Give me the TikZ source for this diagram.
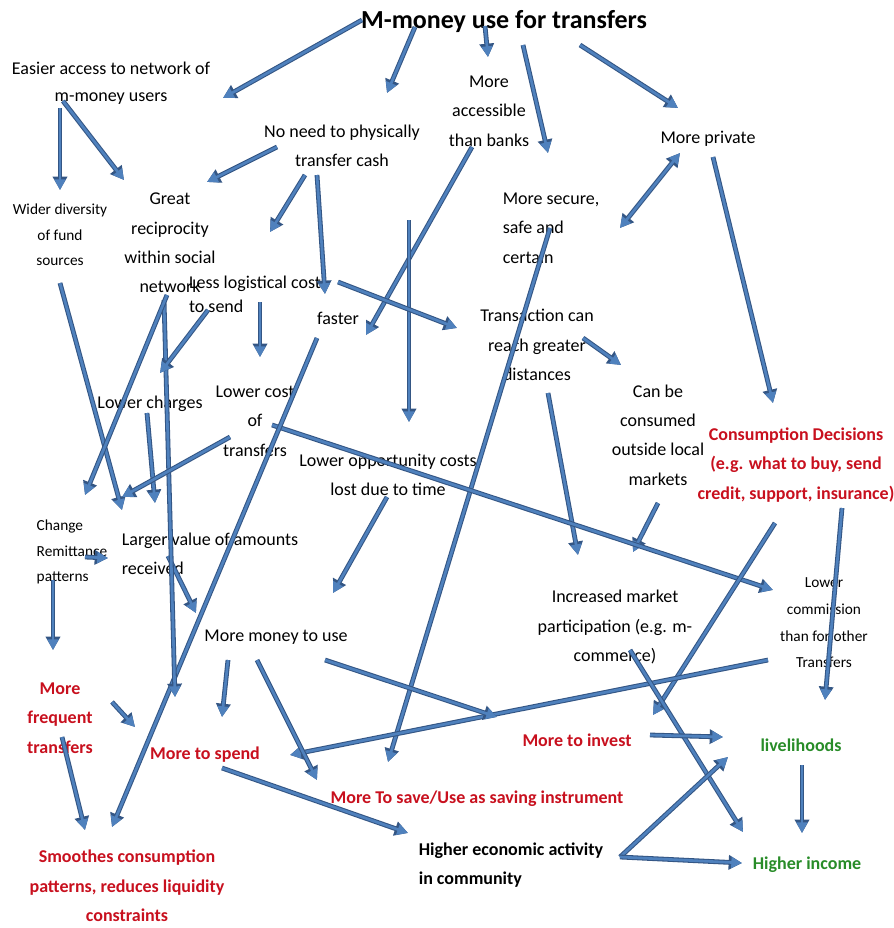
\documentclass[tikz,border=0pt]{standalone}
\usepackage{fontspec}
\setmainfont{Carlito}
\usetikzlibrary{arrows.meta,calc}
\definecolor{arrfill}{RGB}{79,129,189}
\definecolor{arredge}{RGB}{52,86,132}
\definecolor{txtred}{RGB}{200,16,30}
\definecolor{txtgreen}{RGB}{40,140,40}
\tikzset{
  arr/.style={line width=2pt, draw=arrfill, -{Triangle[length=8pt,width=8pt]},
    preaction={draw=arredge, line width=3.6pt, -{Triangle[length=10pt,width=10.5pt]}}},
  arrboth/.style={line width=2pt, draw=arrfill, {Triangle[length=8pt,width=8pt]}-{Triangle[length=8pt,width=8pt]},
    preaction={draw=arredge, line width=3.6pt, {Triangle[length=10pt,width=10.5pt]}-{Triangle[length=10pt,width=10.5pt]}}},
  txt/.style={inner sep=0pt, align=center, font=\fontsize{13.5}{22}\selectfont},
  smalltxt/.style={inner sep=0pt, align=center, font=\fontsize{11.5}{19}\selectfont},
  boldtxt/.style={inner sep=0pt, align=center, font=\fontsize{13.5}{22}\selectfont\bfseries},
  redtxt/.style={boldtxt, text=txtred},
  greentxt/.style={boldtxt, text=txtgreen},
  ttl/.style={inner sep=0pt, font=\fontsize{19.5}{23}\selectfont\bfseries}
}
\begin{document}
\begin{tikzpicture}[x=0.75pt,y=0.75pt,yscale=-1,xscale=1]
\useasboundingbox (0,0) rectangle (893,928);

% Text Node
\draw (504,22) node (title) [ttl] {M-money use for transfers};
% Text Node
\draw (111,83) node (easy) [txt, font=\fontsize{13.5}{20}\selectfont] {Easier access to network of\\m-money users};
% Text Node
\draw (342,146) node (noneed) [txt] {No need to physically\\transfer cash};
% Text Node
\draw (489,111) node (access) [txt] {More\\accessible\\than banks};
% Text Node
\draw (708,139) node (private) [txt] {More private};
% Text Node
\draw (551,228) node (secure) [txt, align=left] {More secure,\\safe and\\certain};
% Text Node
\draw (60,235) node (wider) [smalltxt] {Wider diversity\\of fund\\sources};
% Text Node
\draw (170,243) node (great) [txt] {Great\\reciprocity\\within social\\network};
% Text Node
\draw (255,294) node (lesslog) [txt, align=left, font=\fontsize{13.5}{18}\selectfont] {Less logistical cost\\to send};
% Text Node
\draw (338,318) node (faster) [txt] {faster};
% Text Node
\draw (537,345) node (trans) [txt] {Transaction can\\reach greater\\distances};
% Text Node
\draw (658,435) node (canbe) [txt] {Can be\\consumed\\outside local\\markets};
% Text Node
\draw (796,465) node (consd) [redtxt] {Consumption Decisions\\(e.g. what to buy, send\\credit, support, insurance)};
% Text Node
\draw (150,404) node (lowerch) [txt] {Lower charges};
% Text Node
\draw (255,421) node (lowercost) [txt] {Lower cost\\of\\transfers};
% Text Node
\draw (388,475) node (loweropp) [txt] {Lower opportunity costs\\lost due to time};
% Text Node
\draw (72,552) node (change) [smalltxt, align=left] {Change\\Remittance\\patterns};
% Text Node
\draw (210,554) node (larger) [txt, align=left] {Larger value of amounts\\received};
% Text Node
\draw (615,627) node (incr) [txt] {Increased market\\participation (e.g. m-\\commerce)};
% Text Node
\draw (824,623) node (lowcom) [smalltxt, font=\fontsize{11.5}{20}\selectfont] {Lower\\commission\\than for other\\Transfers};
% Text Node
\draw (276,637) node (moremoney) [txt] {More money to use};
% Text Node
\draw (60,718) node (morefreq) [redtxt] {More\\frequent\\transfers};
% Text Node
\draw (205,755) node (spend) [redtxt] {More to spend};
% Text Node
\draw (577,740) node (invest) [redtxt] {More to invest};
% Text Node
\draw (801,745) node (liveli) [greentxt] {livelihoods};
% Text Node
\draw (477,799) node (save) [redtxt] {More To save/Use as saving instrument};
% Text Node
\draw (511,865) node (higheco) [boldtxt, align=left] {Higher economic activity\\in community};
% Text Node
\draw (807,865) node (income) [greentxt] {Higher income};
% Text Node
\draw (127,886) node (smooth) [redtxt] {Smoothes consumption\\patterns, reduces liquidity\\constraints};

%Straight Lines [free start]
\coordinate (vtop) at (409,220);

%Straight Lines [from the title]
\draw [arr] ($(title)+(-142,-2)$) -- ($(easy)+(112,15)$) ;
\draw [arr] ($(title)+(-89,5)$) -- ($(noneed)+(45,-53)$) ;
\draw [arr] ($(title)+(-19,4)$) -- ($(access)+(-1,-54)$) ;
\draw [arr] ($(title)+(19,23)$) -- ($(secure)+(-3,-75)$) ;
\draw [arr] ($(title)+(76,23)$) -- ($(private)+(-30,-31)$) ;
%Straight Lines [upper right]
\draw [arrboth] ($(private)+(-28,14)$) -- ($(secure)+(69,0)$) ;
\draw [arr] ($(private)+(5,18)$) -- ($(consd)+(-23,-62)$) ;
%Straight Lines [upper left]
\draw [arr] ($(easy)+(-51,25)$) -- ($(wider)+(0,-45)$) ;
\draw [arr] ($(easy)+(-48,18)$) -- ($(great)+(-46,-63)$) ;
\draw [arr] ($(noneed)+(-65,1)$) -- ($(great)+(37,-61)$) ;
\draw [arr] ($(noneed)+(-37,29)$) -- ($(lesslog)+(15,-62)$) ;
\draw [arr] ($(noneed)+(-25,29)$) -- ($(faster)+(-13,-24)$) ;
\draw [arr] ($(access)+(-17,36)$) -- ($(faster)+(28,17)$) ;
\draw [arr] (vtop) -- ($(loweropp)+(21,-53)$) ;
\draw [arr] ($(lesslog)+(83,-12)$) -- ($(trans)+(-80,-17)$) ;
\draw [arr] ($(secure)+(-1,0)$) -- ($(save)+(-89,-37)$) ;
%Straight Lines [middle right]
\draw [arr] ($(trans)+(46,-7)$) -- ($(canbe)+(-37,-70)$) ;
\draw [arr] ($(trans)+(11,48)$) -- ($(incr)+(-37,-72)$) ;
\draw [arr] ($(canbe)+(0,68)$) -- ($(incr)+(18,-75)$) ;
\draw [arr] ($(lowercost)+(17,4)$) -- ($(lowcom)+(-51,-33)$) ;
\draw [arr] ($(consd)+(-21,58)$) -- ($(invest)+(76,-25)$) ;
\draw [arr] ($(consd)+(46,43)$) -- ($(liveli)+(24,-45)$) ;
\draw [arr] ($(lowcom)+(-56,37)$) -- ($(spend)+(85,0)$) ;
\draw [arr] ($(moremoney)+(49,23)$) -- ($(invest)+(-80,-23)$) ;
%Straight Lines [lower right]
\draw [arr] ($(incr)+(15,23)$) -- ($(income)+(-64,-33)$) ;
\draw [arr] ($(invest)+(73,-5)$) -- ($(liveli)+(-78,-8)$) ;
\draw [arr] ($(higheco)+(109,-8)$) -- ($(liveli)+(-73,12)$) ;
\draw [arr] ($(higheco)+(109,-8)$) -- ($(income)+(-65,-2)$) ;
\draw [arr] ($(liveli)+(1,20)$) -- ($(income)+(-5,-32)$) ;
%Straight Lines [lower middle]
\draw [arr] ($(spend)+(17,13)$) -- ($(higheco)+(-103,-32)$) ;
\draw [arr] ($(moremoney)+(-48,23)$) -- ($(spend)+(17,-38)$) ;
\draw [arr] ($(moremoney)+(-19,23)$) -- ($(save)+(-160,-19)$) ;
\draw [arr] ($(morefreq)+(52,-16)$) -- ($(spend)+(-70,-28)$) ;
\draw [arr] ($(morefreq)+(2,19)$) -- ($(smooth)+(-42,-56)$) ;
\draw [arr] ($(faster)+(-21,20)$) -- ($(smooth)+(-15,-59)$) ;
%Straight Lines [left side]
\draw [arr] ($(change)+(-19,28)$) -- ($(morefreq)+(-7,-68)$) ;
\draw [arr] ($(change)+(13,5)$) -- ($(larger)+(-102,4)$) ;
\draw [arr] ($(larger)+(-42,2)$) -- ($(moremoney)+(-80,-24)$) ;
\draw [arr] ($(great)+(-6,57)$) -- ($(spend)+(-30,-58)$) ;
\draw [arr] ($(wider)+(0,48)$) -- ($(larger)+(-88,-44)$) ;
\draw [arr] ($(great)+(-3,52)$) -- ($(change)+(13,-57)$) ;
\draw [arr] ($(lesslog)+(-47,16)$) -- ($(lowerch)+(10,-31)$) ;
\draw [arr] ($(lesslog)+(5,8)$) -- ($(lowercost)+(5,-64)$) ;
\draw [arr] ($(lowerch)+(-3,9)$) -- ($(larger)+(-55,-51)$) ;
\draw [arr] ($(lowercost)+(-25,16)$) -- ($(larger)+(-88,-57)$) ;
\draw [arr] ($(loweropp)+(-1,22)$) -- ($(moremoney)+(57,-44)$) ;
\end{tikzpicture}
\end{document}
